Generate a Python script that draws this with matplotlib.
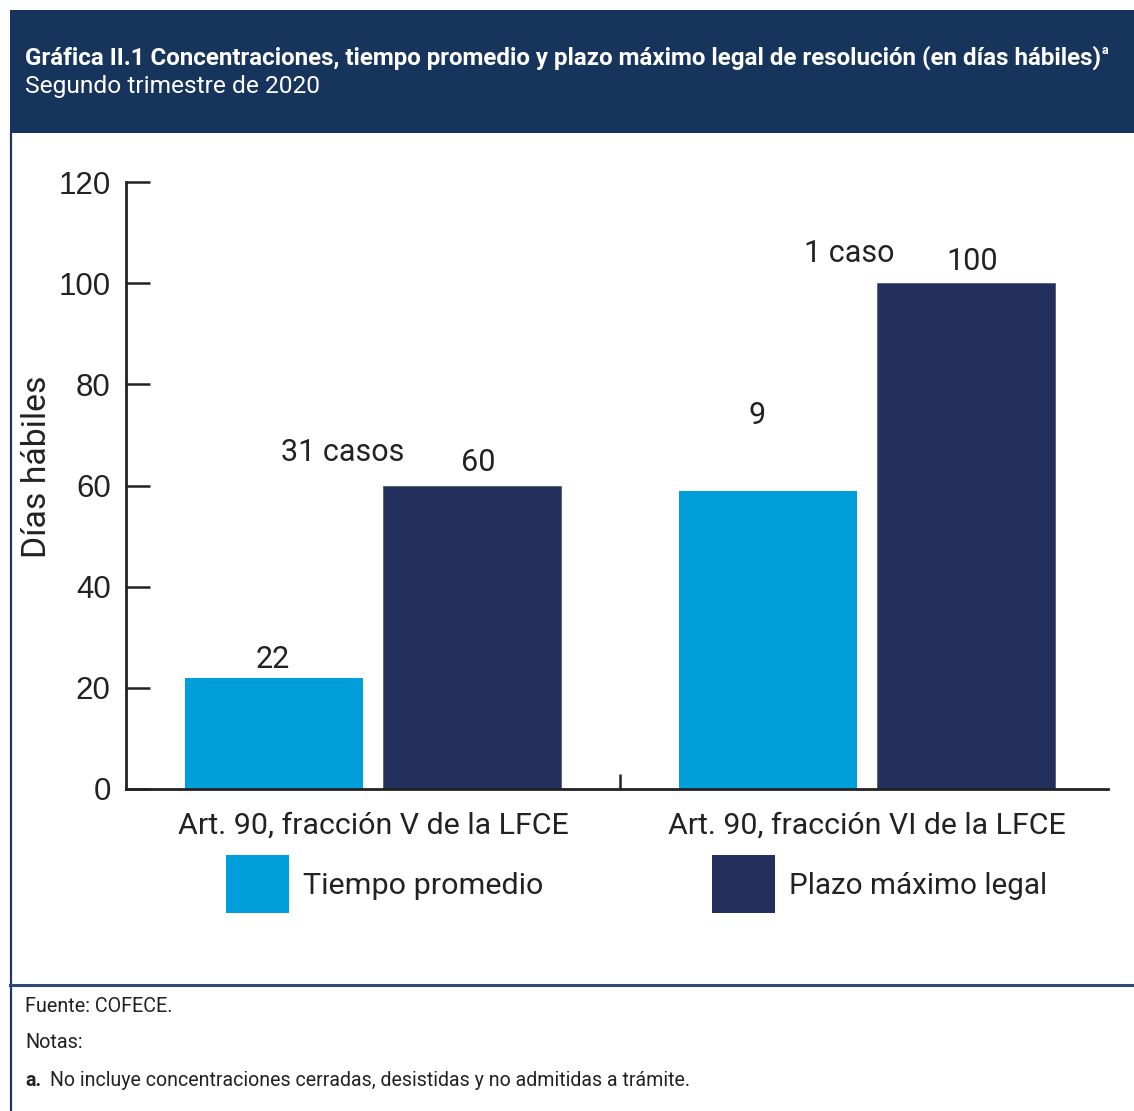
import matplotlib
matplotlib.use("Agg")
import matplotlib.pyplot as plt
from matplotlib.patches import Rectangle
from matplotlib.lines import Line2D
from matplotlib import font_manager
import numpy as np

# ---------------- data ----------------
categories = ["Art. 90, fracción V de la LFCE", "Art. 90, fracción VI de la LFCE"]
series_names = ["Tiempo promedio", "Plazo máximo legal"]
tiempo_promedio = [22, 59]
plazo_maximo = [60, 100]
tiempo_labels = ["22", "9"]
plazo_labels = ["60", "100"]
case_labels = ["31 casos", "1 caso"]
yticks = [0, 20, 40, 60, 80, 100, 120]

title = "Gráfica II.1 Concentraciones, tiempo promedio y plazo máximo legal de resolución (en días hábiles)"
subtitle = "Segundo trimestre de 2020"
ylabel = "Días hábiles"
footer = ["Fuente: COFECE.", "Notas:"]
note_a = "No incluye concentraciones cerradas, desistidas y no admitidas a trámite."

# ---------------- style ----------------
C_LIGHT = "#009fdb"
C_DARK = "#232f5c"
C_HEAD = "#17355c"
C_TEXT = "#222222"

names = {f.name for f in font_manager.fontManager.ttflist}
COND = "Liberation Sans Narrow" if "Liberation Sans Narrow" in names else "Roboto"
NUM = "Liberation Sans"

W, H = 1134, 1111
fig = plt.figure(figsize=(W / 100, H / 100), dpi=100)
fig.patch.set_facecolor("white")

def fx(px):
    return px / W

def fy(py):
    return 1 - py / H

# header band
fig.patches.append(Rectangle((fx(10), fy(133)), 1 - fx(10), fy(10) - fy(133),
                             transform=fig.transFigure, facecolor=C_HEAD, edgecolor="none", zorder=0))
# frame lines
fig.lines.append(Line2D([fx(11), fx(11)], [fy(133), 0], transform=fig.transFigure,
                        color="#1f3a63", lw=1.6))
fig.lines.append(Line2D([fx(10), 1], [fy(985), fy(985)], transform=fig.transFigure,
                        color="#2b4a78", lw=2.2))

# ---------------- axes ----------------
ax = fig.add_axes([fx(126), fy(789), fx(1108) - fx(126), fy(182) - fy(789)])
x = np.arange(len(categories))
bw = 0.360
off = 0.2004
b1 = ax.bar(x - off, tiempo_promedio, bw, color=C_LIGHT, zorder=2)
b2 = ax.bar(x + off, plazo_maximo, bw, color=C_DARK, edgecolor="#555a70", linewidth=0.6, zorder=2)

ax.set_xlim(-0.5, 1.488)
ax.set_ylim(0, 120)
for s in ["top", "right"]:
    ax.spines[s].set_visible(False)
for s in ["left", "bottom"]:
    ax.spines[s].set_color(C_TEXT)
    ax.spines[s].set_linewidth(2.0)

ax.set_yticks(yticks)
ax.set_yticklabels([str(v) for v in yticks], fontsize=22.5, family=NUM, color=C_TEXT)
ax.tick_params(axis="y", direction="in", length=17, width=1.8, pad=11, color=C_TEXT)
ax.set_xticks(x)
ax.set_xticklabels(categories, fontsize=22, family=COND, color=C_TEXT)
ax.tick_params(axis="x", which="major", length=0, pad=16)
ax.set_xticks([0.5], minor=True)
ax.tick_params(axis="x", which="minor", direction="in", length=11, width=1.8, color=C_TEXT)

# value labels
lab_kw = dict(ha="center", va="center", fontsize=22, family=COND, color=C_TEXT)
ax.text(x[0] - off - 0.002, 25.7, tiempo_labels[0], **lab_kw)
ax.text(x[1] - off - 0.022, 73.9, tiempo_labels[1], **lab_kw)
ax.text(x[0] + off + 0.012, 64.6, plazo_labels[0], **lab_kw)
ax.text(x[1] + off + 0.012, 104.2, plazo_labels[1], **lab_kw)
ax.text(x[0] - 0.061, 66.6, case_labels[0], **lab_kw)
ax.text(x[1] - 0.036, 105.8, case_labels[1], **lab_kw)

# y label
t_yl = fig.text(fx(37), fy(467), ylabel, rotation=90, ha="center", va="center",
                fontsize=20, family=COND, color=C_TEXT)

# legend
sq = [(226, C_LIGHT), (712, C_DARK)]
leg_texts = []
for (px, col), name in zip(sq, series_names):
    fig.patches.append(Rectangle((fx(px), fy(913)), fx(63), fy(855) - fy(913),
                                 transform=fig.transFigure, facecolor=col, edgecolor="none"))
    leg_texts.append(fig.text(fx(px + 77), fy(886), name, ha="left", va="center", fontsize=22,
                              family=COND, color=C_TEXT))

# header texts
t_title = fig.text(fx(25), fy(58), title, ha="left", va="center", fontsize=15,
                   family=COND, weight="bold", color="white")
t_sub = fig.text(fx(25), fy(86), subtitle, ha="left", va="center", fontsize=15,
                 family=COND, color="white")

# footer
f1 = fig.text(fx(25), fy(1007), footer[0], ha="left", va="center", fontsize=12, family=COND, color=C_TEXT)
f2 = fig.text(fx(25), fy(1043), footer[1], ha="left", va="center", fontsize=12, family=COND, color=C_TEXT)
fn = fig.text(fx(50), fy(1080), note_a, ha="left", va="center", fontsize=12, family=COND, color=C_TEXT)

# fit text widths to the reference
fig.canvas.draw()
r = fig.canvas.get_renderer()

def fit(t, width_px):
    w = t.get_window_extent(r).width
    t.set_fontsize(t.get_fontsize() * width_px / w)

def fit_h(t, height_px):
    h = t.get_window_extent(r).height
    t.set_fontsize(t.get_fontsize() * height_px / h)

fit(t_title, 1085)
fit(t_sub, 295)
fit(f1, 147)
fit(f2, 58)
fit(fn, 638)
fit(leg_texts[0], 240)
fit(leg_texts[1], 258)
fit_h(t_yl, 182)
for t, wpx in zip(ax.get_xticklabels(), [390, 397]):
    fit(t, wpx)
fig.text(fx(25), fy(1080), "a.", ha="left", va="center", fontsize=fn.get_fontsize(),
         family=COND, weight="bold", color=C_TEXT)
fig.canvas.draw()
bb = t_title.get_window_extent(r)
fig.text((bb.x1 + 1) / W, fy(50), "a", ha="left", va="center", fontsize=9,
         family=COND, weight="bold", color="white")

fig.savefig("out.png", dpi=100)
